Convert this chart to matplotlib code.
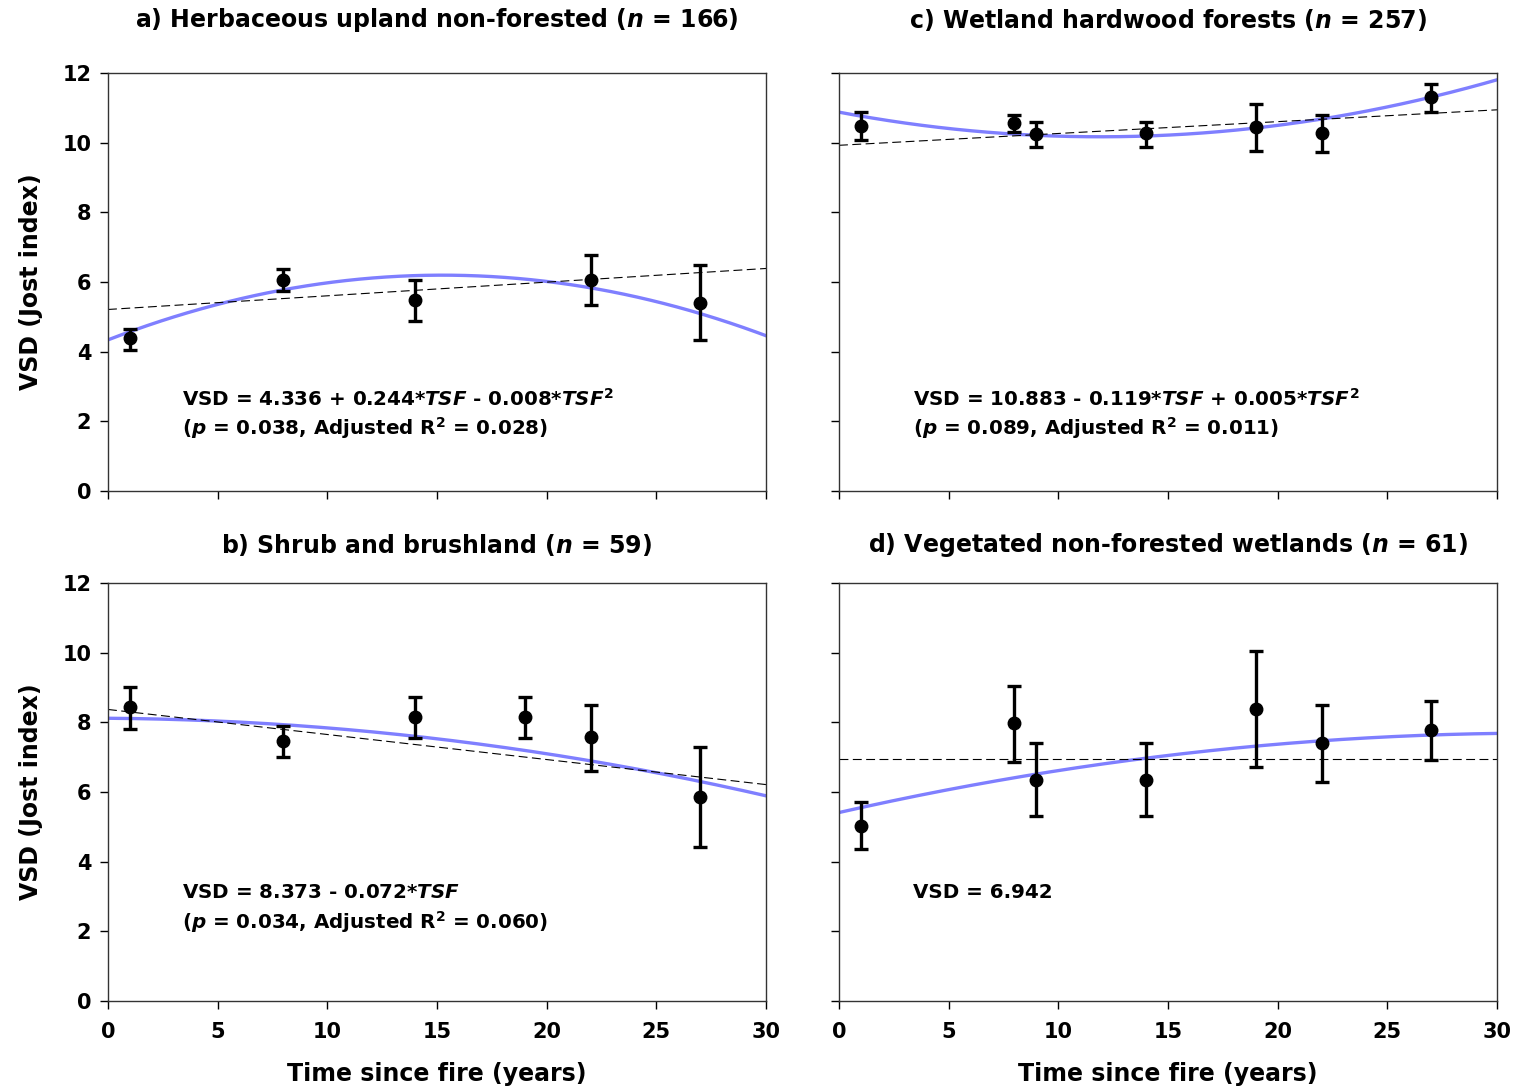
import numpy as np
import matplotlib
matplotlib.use("Agg")
import matplotlib.pyplot as plt

plt.rcParams['font.family'] = ['DejaVu Sans']
plt.rcParams['font.weight'] = 'bold'
plt.rcParams['mathtext.fontset'] = 'custom'
plt.rcParams['mathtext.rm'] = 'DejaVu Sans:bold'
plt.rcParams['mathtext.bf'] = 'DejaVu Sans:bold'
plt.rcParams['mathtext.it'] = 'DejaVu Sans:italic:bold'

# ---- data ----
titles = ['a) Herbaceous upland non-forested ($n$ = 166)',
          'b) Shrub and brushland ($n$ = 59)',
          'c) Wetland hardwood forests ($n$ = 257)',
          'd) Vegetated non-forested wetlands ($n$ = 61)']

tsf_a = [1, 8, 14, 22, 27]
vsd_a = [4.38, 6.06, 5.47, 6.06, 5.41]
lo_a = [4.05, 5.74, 4.88, 5.34, 4.32]
hi_a = [4.65, 6.37, 6.05, 6.78, 6.48]

tsf_b = [1, 8, 14, 19, 22, 27]
vsd_b = [8.43, 7.46, 8.17, 8.17, 7.57, 5.87]
lo_b = [7.82, 7.00, 7.55, 7.55, 6.60, 4.41]
hi_b = [9.01, 7.90, 8.73, 8.73, 8.51, 7.30]

tsf_c = [1, 8, 9, 14, 19, 22, 27]
vsd_c = [10.49, 10.57, 10.26, 10.28, 10.46, 10.28, 11.31]
lo_c = [10.08, 10.31, 9.89, 9.89, 9.77, 9.73, 10.89]
hi_c = [10.88, 10.79, 10.60, 10.60, 11.13, 10.79, 11.68]

tsf_d = [1, 8, 9, 14, 19, 22, 27]
vsd_d = [5.03, 7.97, 6.35, 6.35, 8.40, 7.41, 7.78]
lo_d = [4.36, 6.85, 5.30, 5.30, 6.72, 6.30, 6.91]
hi_d = [5.70, 9.06, 7.40, 7.40, 10.04, 8.49, 8.63]

# fitted curves: (intercept, linear, quadratic)
quad_a = (4.336, 0.244, -0.008)
quad_b = (8.12, -0.0044, -0.00233)
quad_c = (10.883, -0.119, 0.005)
quad_d = (5.41, 0.143, -0.00224)
lin_a = (5.21, 0.0393)
lin_b = (8.373, -0.072)
lin_c = (9.93, 0.034)
lin_d = (6.942, 0.0)

eq_a = ['VSD = 4.336 + 0.244*$TSF$ - 0.008*$TSF^2$',
        '($p$ = 0.038, Adjusted R$^2$ = 0.028)']
eq_b = ['VSD = 8.373 - 0.072*$TSF$',
        '($p$ = 0.034, Adjusted R$^2$ = 0.060)']
eq_c = ['VSD = 10.883 - 0.119*$TSF$ + 0.005*$TSF^2$',
        '($p$ = 0.089, Adjusted R$^2$ = 0.011)']
eq_d = ['VSD = 6.942']

panels = [
    (tsf_a, vsd_a, lo_a, hi_a, quad_a, lin_a, eq_a, titles[0]),
    (tsf_b, vsd_b, lo_b, hi_b, quad_b, lin_b, eq_b, titles[1]),
    (tsf_c, vsd_c, lo_c, hi_c, quad_c, lin_c, eq_c, titles[2]),
    (tsf_d, vsd_d, lo_d, hi_d, quad_d, lin_d, eq_d, titles[3]),
]

fig = plt.figure(figsize=(15.2, 10.92), dpi=100)
W, H = 1520.0, 1092.0
boxes = [(108, 73.3), (108, 583.3), (839, 73.3), (839, 583.3)]
title_y = [20, 545, 20, 545]
aw, ah = 658, 417.4

xs = np.linspace(0, 30, 200)
for i, (tsf, vsd, lo, hi, quad, lin, eq, title) in enumerate(panels):
    left, top = boxes[i]
    ax = fig.add_axes([left / W, 1 - (top + ah) / H, aw / W, ah / H])
    ax.plot(xs, quad[0] + quad[1] * xs + quad[2] * xs ** 2, color='#7f7fff', lw=2.4, zorder=2)
    ax.plot(xs, lin[0] + lin[1] * xs, color='black', lw=0.8, dashes=(8, 4), zorder=2)
    yerr = [np.array(vsd) - np.array(lo), np.array(hi) - np.array(vsd)]
    ax.errorbar(tsf, vsd, yerr=yerr, fmt='o', color='black', ms=9,
                elinewidth=2.4, capsize=5, capthick=2.4, zorder=3)

    ax.set_xlim(0, 30)
    ax.set_ylim(0, 12)
    ax.set_xticks(range(0, 31, 5))
    ax.set_yticks(range(0, 13, 2))
    ax.tick_params(direction='out', length=6, width=1, labelsize=15)
    ax.tick_params(axis='x', pad=9)
    ax.tick_params(axis='y', pad=6)
    for s in ax.spines.values():
        s.set_linewidth(1)
        s.set_color('#333333')

    bottom_row = i in (1, 3)
    left_col = i in (0, 1)
    if not bottom_row:
        ax.tick_params(labelbottom=False)
    else:
        ax.set_xlabel('Time since fire (years)', fontsize=17, fontweight='bold', labelpad=15)
    if not left_col:
        ax.tick_params(labelleft=False)
    else:
        ax.set_ylabel('VSD (Jost index)', fontsize=17, fontweight='bold', labelpad=14)

    fig.text((left + aw / 2) / W, 1 - title_y[i] / H, title, fontsize=17,
             fontweight='bold', ha='center', va='center')

    ty = 2.64 if not bottom_row else 3.1
    for k, line in enumerate(eq):
        ax.text(3.37, ty - 0.83 * k, line, fontsize=14.3, fontweight='bold', va='center', ha='left')

fig.savefig('out.png', dpi=100)
